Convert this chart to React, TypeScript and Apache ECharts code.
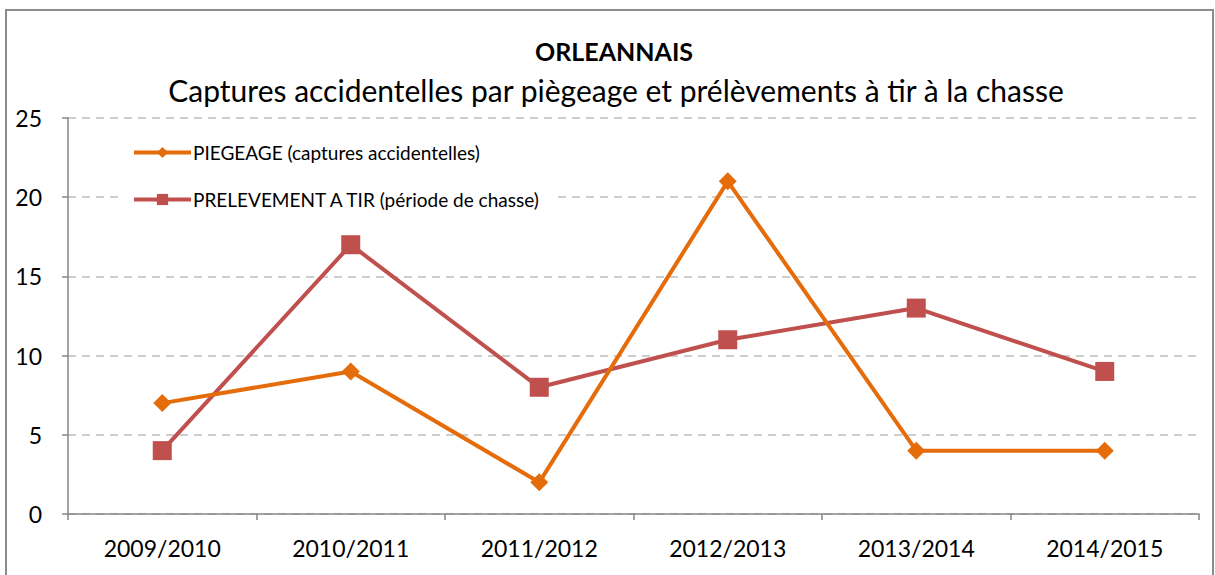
import React, { useEffect, useRef } from "react";
import * as echarts from "echarts";

const categories = ["2009/2010", "2010/2011", "2011/2012", "2012/2013", "2013/2014", "2014/2015"];
const piegeage = [7, 9, 2, 21, 4, 4];
const prelevement = [4, 17, 8, 11, 13, 9];
const titleMain = "ORLEANNAIS";
const titleSub = "Captures accidentelles par piègeage et prélèvements à tir à la chasse";
const seriesNames = ["PIEGEAGE (captures accidentelles)", "PRELEVEMENT A TIR (période de chasse)"];

const FONT = "Lato, 'Open Sans', sans-serif";

export default function App() {
  const ref = useRef<HTMLDivElement>(null);
  useEffect(() => {
    if (!ref.current) return;
    const chart = echarts.init(ref.current, null, { renderer: "svg" });
    chart.setOption({
      animation: false,
      backgroundColor: "#ffffff",
      textStyle: { fontFamily: FONT },
      graphic: [
        {
          type: "rect",
          shape: { x: 6, y: 10, width: 1207, height: 580 },
          style: { fill: "none", stroke: "#8c8c8c", lineWidth: 2 },
          silent: true,
        },
      ],
      title: [
        {
          text: titleMain,
          left: 609,
          textAlign: "center",
          top: 33,
          textStyle: { fontFamily: FONT, fontSize: 25, fontWeight: "bold", color: "#000" },
        },
        {
          text: titleSub,
          left: 611,
          textAlign: "center",
          top: 70,
          textStyle: { fontFamily: FONT, fontSize: 30, fontWeight: "normal", color: "#000" },
        },
      ],
      legend: {
        orient: "vertical",
        left: 118,
        top: 135,
        itemGap: 28,
        itemWidth: 57,
        itemHeight: 14,
        backgroundColor: "#ffffff",
        padding: [8, 14, 8, 14],
        lineStyle: { width: 4 },
        textStyle: { fontFamily: FONT, fontSize: 19, color: "#000", padding: [0, 0, 0, -3] },
        data: seriesNames,
      },
      grid: { left: 68, right: 16, top: 118, bottom: 61, containLabel: false },
      xAxis: {
        type: "category",
        data: categories,
        boundaryGap: true,
        axisLine: { lineStyle: { color: "#868686", width: 1.5 } },
        axisTick: { show: true, length: 6, lineStyle: { color: "#868686", width: 1.5 } },
        axisLabel: { fontFamily: FONT, fontSize: 23, color: "#000", margin: 22 },
      },
      yAxis: {
        type: "value",
        min: 0,
        max: 25,
        interval: 5,
        axisLine: { show: true, lineStyle: { color: "#868686", width: 1.5 } },
        axisTick: { show: true, length: 6, lineStyle: { color: "#868686", width: 1.5 } },
        axisLabel: { fontFamily: FONT, fontSize: 23, color: "#000", margin: 26 },
        splitLine: { lineStyle: { color: "#bfbfbf", type: [8, 6], width: 1.5 } },
      },
      series: [
        {
          name: seriesNames[0],
          type: "line",
          data: piegeage,
          symbol: "diamond",
          symbolSize: 18,
          z: 3,
          lineStyle: { color: "#e46c0a", width: 4 },
          itemStyle: { color: "#e46c0a" },
        },
        {
          name: seriesNames[1],
          type: "line",
          data: prelevement,
          symbol: "rect",
          symbolSize: 19,
          z: 2,
          lineStyle: { color: "#c0504d", width: 4 },
          itemStyle: { color: "#c0504d" },
        },
      ],
    });
    return () => chart.dispose();
  }, []);
  return <div ref={ref} style={{ width: 1215, height: 575, position: "absolute", left: 0, top: 0 }} />;
}
